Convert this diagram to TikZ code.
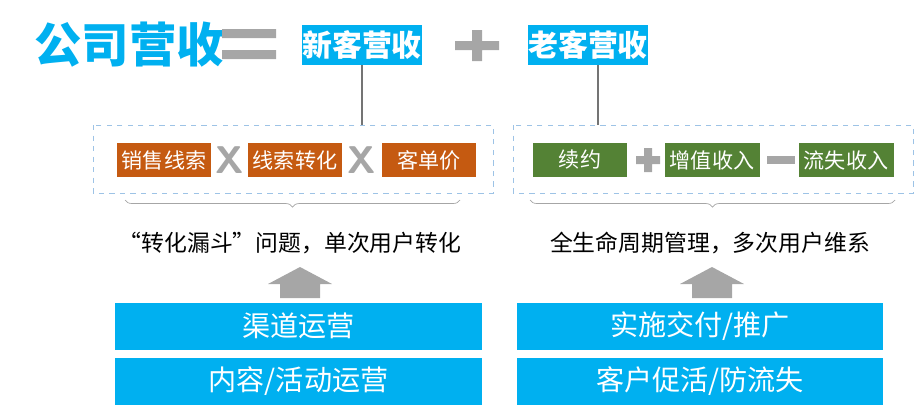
\documentclass[tikz,border=0pt]{standalone}
\usepackage{fontspec}
\newfontfamily\cjk{Noto Sans CJK SC}
\usetikzlibrary{positioning,decorations.pathreplacing,arrows.meta}
\definecolor{skyblue}{HTML}{00B0F0}
\definecolor{rustorange}{HTML}{C55A11}
\definecolor{leafgreen}{HTML}{548235}
\definecolor{signgray}{HTML}{A6A6A6}
\definecolor{dashblue}{HTML}{9DC3E6}

\begin{document}
\begin{tikzpicture}[x=0.02cm,y=-0.02cm,
  every node/.style={font=\cjk},
  head/.style={fill=skyblue, text=white, font=\cjk\bfseries\fontsize{17}{17}\selectfont, minimum width=2.4cm, minimum height=0.8cm, inner sep=0pt},
  factor/.style={fill=#1, text=white, font=\cjk\fontsize{12}{12}\selectfont, minimum width=1.9cm, minimum height=0.68cm, inner sep=0pt},
  group/.style={draw=dashblue, dashed, thin},
  bar/.style={fill=skyblue, text=white, font=\cjk\fontsize{16}{16}\selectfont, minimum width=7.34cm, minimum height=0.94cm, inner sep=0pt},
  sign/.style={fill=signgray, draw=none},
  brace/.style={draw=signgray, thin, decorate, decoration={brace, mirror, amplitude=4pt}},
  note/.style={font=\cjk\fontsize{13}{13}\selectfont}
]
  \useasboundingbox (0,0) rectangle (916,413);
  % title row
  \node[text=skyblue, font=\cjk\bfseries\fontsize{27}{27}\selectfont, anchor=west] (total) at (28,45) {公司营收};
  \fill[sign] (222,29) rectangle (276,38) (222,50) rectangle (276,59);
  \node[head] (newrev) at (362,45) {新客营收};
  \fill[sign] (455,41) rectangle (499,50) (472,30) rectangle (482,61);
  \node[head] (oldrev) at (588,45) {老客营收};
  % groups
  \draw[group] (93,125) rectangle (493,193);
  \draw[group] (513,125) rectangle (913,193);
  \coordinate (ltop) at (362,125);
  \coordinate (rtop) at (598,125);
  \draw[signgray!70!black, thick] (362,65) -- (ltop);
  \draw[signgray!70!black, thick] (598,65) -- (rtop);
  % left factors
  \node[factor=rustorange] (leads) at (164,160) {销售线索};
  \node[factor=rustorange] (conv) at (295,160) {线索转化};
  \node[factor=rustorange] (price) at (429,160) {客单价};
  \foreach \x in {230,362}
    \node[text=signgray, font=\sffamily\bfseries\fontsize{22}{22}\selectfont] at (\x,160) {X};
  % right factors
  \node[factor=leafgreen] (renew) at (580,160) {续约};
  \node[factor=leafgreen] (upsell) at (712,160) {增值收入};
  \node[factor=leafgreen] (churn) at (846,160) {流失收入};
  \fill[sign] (636,156) rectangle (660,164) (644,148) rectangle (652,172);
  \fill[sign] (767,156) rectangle (795,164);
  % braces and notes
  \draw[brace] (125,200) -- (460,200);
  \draw[brace] (530,200) -- (895,200);
  \node[note] (lnote) at (290,243) {“转化漏斗”问题，单次用户转化};
  \node[note] (rnote) at (710,243) {全生命周期管理，多次用户维系};
  % arrows
  \fill[sign] (280,298) -- (280,284) -- (268,284) -- (300,267) -- (332,284) -- (320,284) -- (320,298) -- cycle;
  \fill[sign] (692,298) -- (692,284) -- (680,284) -- (712,267) -- (744,284) -- (732,284) -- (732,298) -- cycle;
  % bars
  \node[bar] (chan) at (298.5,326) {渠道运营};
  \node[bar] (content) at (298.5,381) {内容/活动运营};
  \node[bar] (deliver) at (700,326) {实施交付/推广};
  \node[bar] (retain) at (700,381) {客户促活/防流失};
\end{tikzpicture}
\end{document}
